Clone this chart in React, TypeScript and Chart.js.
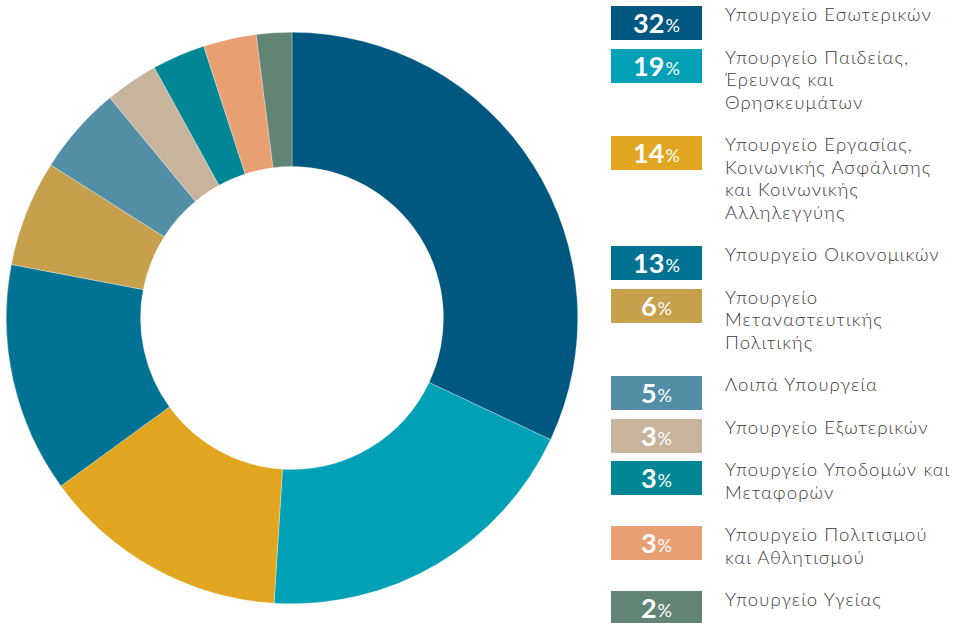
import React, { useEffect, useRef } from "react";
import { Chart, registerables } from "chart.js";

Chart.register(...registerables);

const labels: string[] = [
  "Υπουργείο Εσωτερικών",
  "Υπουργείο Παιδείας,\nΈρευνας και\nΘρησκευμάτων",
  "Υπουργείο Εργασίας,\nΚοινωνικής Ασφάλισης\nκαι Κοινωνικής\nΑλληλεγγύης",
  "Υπουργείο Οικονομικών",
  "Υπουργείο\nΜεταναστευτικής\nΠολιτικής",
  "Λοιπά Υπουργεία",
  "Υπουργείο Εξωτερικών",
  "Υπουργείο Υποδομών και\nΜεταφορών",
  "Υπουργείο Πολιτισμού\nκαι Αθλητισμού",
  "Υπουργείο Υγείας",
];

const values: number[] = [32, 19, 14, 13, 6, 5, 3, 3, 3, 2];

const colors: string[] = [
  "#00577F",
  "#00A0B6",
  "#E2A520",
  "#007394",
  "#C6A04C",
  "#528FA6",
  "#C8B49C",
  "#008695",
  "#E8A073",
  "#628474",
];

const LINE_H = 22.5;

export default function App() {
  const canvasRef = useRef<HTMLCanvasElement | null>(null);

  useEffect(() => {
    document.body.style.margin = "0";
    const ctx = canvasRef.current;
    if (!ctx) return;
    const chart = new Chart(ctx, {
      type: "doughnut",
      data: {
        labels: labels.map((l) => l.replace(/\n/g, " ")),
        datasets: [
          {
            data: values,
            backgroundColor: colors,
            borderColor: "rgba(255,255,255,0.6)",
            borderWidth: 0.5,
          },
        ],
      },
      options: {
        animation: false,
        responsive: false,
        maintainAspectRatio: false,
        cutout: "53%",
        plugins: {
          legend: { display: false },
          tooltip: { enabled: false },
        },
        layout: { padding: 0 },
      },
    });
    return () => chart.destroy();
  }, []);

  return (
    <div
      style={{
        position: "relative",
        width: 957,
        height: 623,
        background: "#fff",
        overflow: "hidden",
      }}
    >
      <div style={{ position: "absolute", left: 6, top: 32, width: 572, height: 572 }}>
        <canvas ref={canvasRef} width={572} height={572} style={{ width: 572, height: 572 }} />
      </div>
      <div
        style={{
          position: "absolute",
          left: 611,
          top: 3,
          width: 346,
          display: "flex",
          flexDirection: "column",
        }}
      >
        {labels.map((label, i) => {
          const lines = label.split("\n").length;
          return (
            <div
              key={i}
              style={{
                position: "relative",
                height: lines * LINE_H,
                marginBottom: 20,
              }}
            >
              <div
                style={{
                  position: "absolute",
                  left: 0,
                  top: 3,
                  width: 91,
                  height: 34,
                  background: colors[i],
                  color: "#fff",
                  display: "flex",
                  alignItems: "flex-end",
                  justifyContent: "center",
                  fontFamily: "Lato, 'Noto Sans', sans-serif",
                  lineHeight: "normal",
                  paddingBottom: 1,
                  boxSizing: "border-box",
                }}
              >
                <span style={{ fontSize: 27, fontWeight: 700 }}>{values[i]}</span>
                <span style={{ fontSize: 18, fontWeight: 400, marginBottom: 3, marginLeft: 1 }}>%</span>
              </div>
              <div
                style={{
                  position: "absolute",
                  left: 114,
                  top: 0,
                  whiteSpace: "pre",
                  fontFamily: "Lato, 'Noto Sans', sans-serif",
                  fontSize: 18.5,
                  lineHeight: LINE_H + "px",
                  letterSpacing: 1.1,
                  color: "#3c3c3c",
                  fontWeight: 300,
                }}
              >
                {label}
              </div>
            </div>
          );
        })}
      </div>
    </div>
  );
}
